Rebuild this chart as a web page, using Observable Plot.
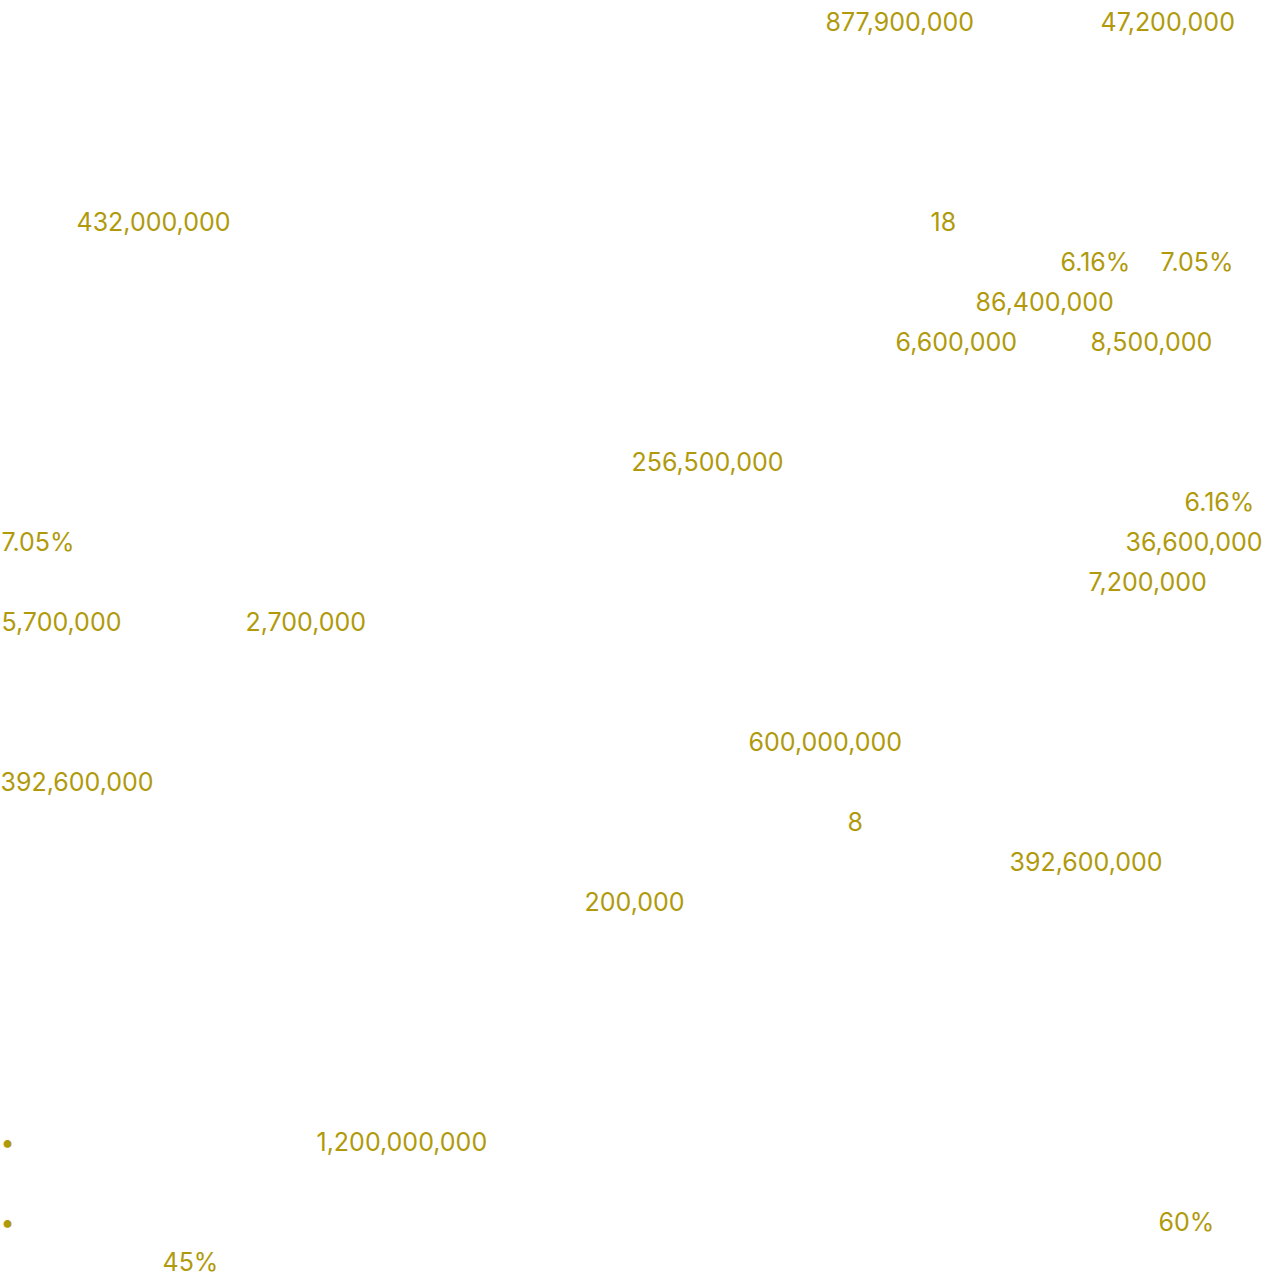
<!DOCTYPE html>
<html>
<head>
<meta charset="utf-8">
<script src="https://cdn.jsdelivr.net/npm/d3@7"></script>
<script src="https://cdn.jsdelivr.net/npm/@observablehq/plot@0.6"></script>
<style>
  html, body { margin: 0; padding: 0; background: #fff; }
  #chart svg { display: block; }
</style>
</head>
<body>
<div id="chart"></div>
<script>
// Visible highlighted figures, by text line and horizontal offset
const labels = ["877,900,000", "47,200,000", "432,000,000", "18", "6.16%", "7.05%",
  "86,400,000", "6,600,000", "8,500,000", "256,500,000", "6.16%", "7.05%",
  "36,600,000", "7,200,000", "5,700,000", "2,700,000", "600,000,000", "392,600,000",
  "8", "392,600,000", "200,000", "•", "1,200,000,000", "•", "60%", "45%"];
const lines = [0, 0, 5, 5, 6, 6,
  7, 8, 8, 11, 12, 13,
  13, 14, 15, 15, 18, 19,
  20, 21, 22, 28, 28, 30, 30, 31];
const offsets = [825, 1100, 76, 930, 1060, 1160,
  975, 895, 1090, 631, 1184, 1,
  1125, 1088, 1, 245, 748, 0,
  847, 1009, 584, 0, 316, 0, 1158, 162];

const data = labels.map((t, i) => ({text: t, line: lines[i], offset: offsets[i]}));

const W = 1270, H = 1286;
const chart = Plot.plot({
  width: W,
  height: H,
  margin: 0,
  x: {domain: [0, W], range: [0, W], axis: null},
  y: {domain: [-0.57, -0.57 + H / 40], range: [0, H], axis: null},
  style: {background: "#ffffff"},
  marks: [
    Plot.text(data, {
      x: "offset",
      y: "line",
      text: "text",
      textAnchor: "start",
      lineAnchor: "middle",
      fill: "#b09a0c",
      fontSize: 25,
      fontFamily: "Inter, 'Noto Sans', sans-serif"
    })
  ]
});
document.getElementById("chart").appendChild(chart);
</script>
</body>
</html>
